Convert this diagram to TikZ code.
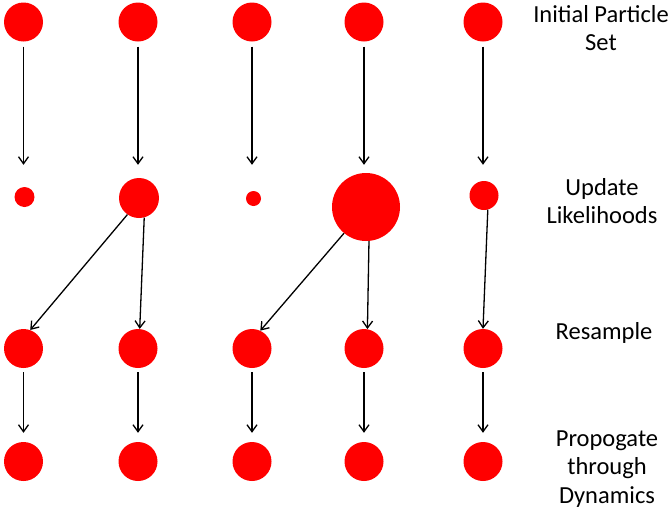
\documentclass[tikz,border=0pt]{standalone}
\usepackage{fontspec}
\setmainfont{Carlito}
\usetikzlibrary{arrows.meta}
\begin{document}
\begin{tikzpicture}[x=1pt,y=-1pt,
  dot/.style={circle,fill=red,draw=none,inner sep=0pt,minimum size=#1},
  arr/.style={draw=black,line width=1.3pt,-{Straight Barb[length=7pt,width=10pt,line width=1.3pt]}},
  lbl/.style={align=center,font=\fontsize{24.5}{28.5}\selectfont,inner sep=0pt}]
\useasboundingbox (0,0) rectangle (670,512);
% row 1
\node[dot=39pt] (a1) at (23.5,22) {};
\node[dot=39pt] (a2) at (138,22) {};
\node[dot=39pt] (a3) at (252,22) {};
\node[dot=39pt] (a4) at (364,22) {};
\node[dot=39pt] (a5) at (483,22) {};
% row 2
\node[dot=20pt] (b1) at (24.5,197) {};
\node[dot=40pt] (b2) at (139,198) {};
\node[dot=15pt] (b3) at (253.5,198.5) {};
\node[dot=68pt] (b4) at (366,207) {};
\node[dot=29pt] (b5) at (484,195.5) {};
% row 3
\node[dot=39pt] (c1) at (23.5,348.5) {};
\node[dot=39pt] (c2) at (138,348.5) {};
\node[dot=39pt] (c3) at (252,348.5) {};
\node[dot=39pt] (c4) at (364,348.5) {};
\node[dot=39pt] (c5) at (483,348.5) {};
% row 4
\node[dot=39pt] (d1) at (23.5,461.5) {};
\node[dot=39pt] (d2) at (138,461.5) {};
\node[dot=39pt] (d3) at (252,461.5) {};
\node[dot=39pt] (d4) at (364,461.5) {};
\node[dot=39pt] (d5) at (483,461.5) {};
% arrows row1 -> row2
\draw[arr,shorten <=5pt,shorten >=22pt] (a1) -- (a1 |- b1.north);
\draw[arr,shorten <=5pt,shorten >=13pt] (a2) -- (a2 |- b2.north);
\draw[arr,shorten <=5pt,shorten >=26pt] (a3) -- (a3 |- b3.north);
\draw[arr,shorten <=5pt,shorten >=8pt] (a4) -- (a4 |- b4.north);
\draw[arr,shorten <=5pt,shorten >=16pt] (a5) -- (a5 |- b5.north);
% arrows row2 -> row3
\draw[arr] (b2.-125) -- (c1.70);
\draw[arr] (b2.-75) -- (c2.85);
\draw[arr] (b4.-130) -- (c3.65);
\draw[arr] (b4.-85) -- (c4.80);
\draw[arr] (b5.-75) -- (c5.north);
% arrows row3 -> row4
\draw[arr,shorten <=4pt,shorten >=9pt] (c1) -- (d1);
\draw[arr,shorten <=4pt,shorten >=9pt] (c2) -- (d2);
\draw[arr,shorten <=4pt,shorten >=9pt] (c3) -- (d3);
\draw[arr,shorten <=4pt,shorten >=9pt] (c4) -- (d4);
\draw[arr,shorten <=4pt,shorten >=9pt] (c5) -- (d5);
% labels
\node[lbl] (l1) at (601,28) {Initial Particle\\Set};
\node[lbl] (l2) at (602,201) {Update\\Likelihoods};
\node[lbl] (l3) at (604,333) {Resample};
\node[lbl] (l4) at (607,469) {Propogate\\through\\Dynamics};
\end{tikzpicture}
\end{document}
